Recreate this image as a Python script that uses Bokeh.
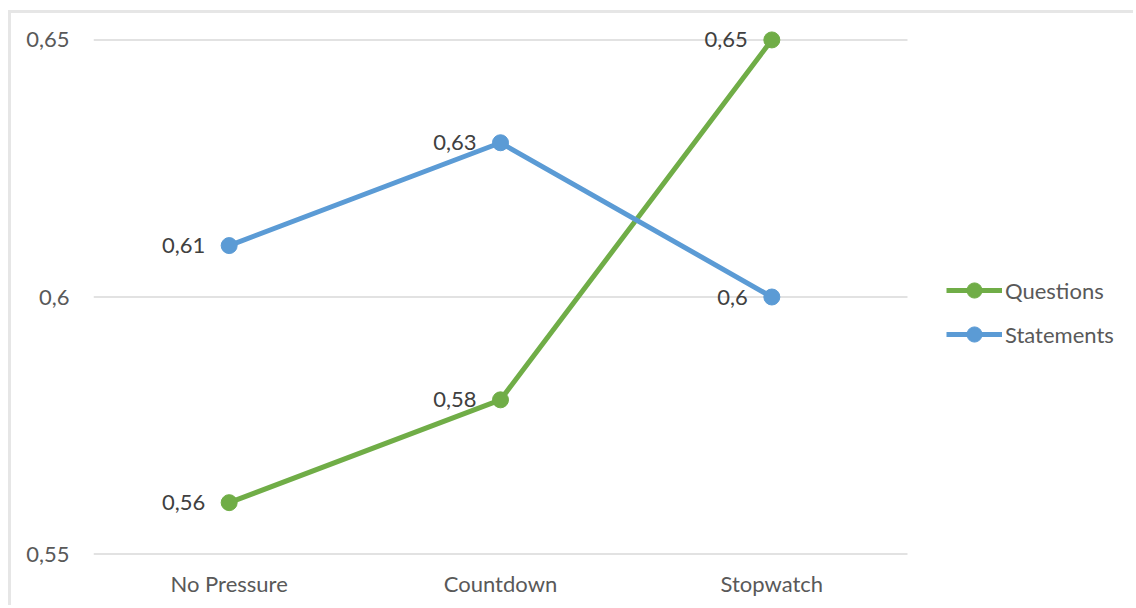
from bokeh.plotting import figure
from bokeh.models import FixedTicker, Legend, LegendItem, ColumnDataSource, Range1d
from bokeh.embed import file_html
from bokeh.resources import INLINE
from bokeh.core.properties import value

categories = ["No Pressure", "Countdown", "Stopwatch"]
questions = [0.56, 0.58, 0.65]
statements = [0.61, 0.63, 0.60]
y_ticks = [0.55, 0.6, 0.65]
y_tick_labels = ["0,55", "0,6", "0,65"]

def fmt(v):
    s = ("%.2f" % v).rstrip("0")
    return s.replace(".", ",")

GREEN = "#70AD47"
BLUE = "#5B9BD5"
FONT = "Lato"
FS = "22px"

# category positions on a numeric axis (centre of each category slot)
xpos = [i + 0.5 for i in range(len(categories))]
n = len(categories)
x_end = n * (1136 - 93) / 814.0  # extra room to the right holds the legend

p = figure(width=1125, height=595, x_range=Range1d(0, x_end), y_range=Range1d(0.547, 0.653),
           output_backend="svg", toolbar_location=None,
           min_border_left=82, min_border_right=0, min_border_top=11, min_border_bottom=39)
p.margin = (10, 0, 0, 8)
p.styles = {"border-left": "3px solid #E6E6E6", "border-top": "3px solid #E6E6E6"}
p.outline_line_color = None
p.background_fill_color = "white"
p.border_fill_color = "white"

p.xgrid.grid_line_color = None
p.ygrid.grid_line_color = None
p.segment(x0=[0] * len(y_ticks), x1=[n] * len(y_ticks), y0=y_ticks, y1=y_ticks,
          line_color="#D9D9D9", line_width=1.5)

p.yaxis.ticker = FixedTicker(ticks=y_ticks)
p.yaxis.major_label_overrides = dict(zip(y_ticks, y_tick_labels))
p.xaxis.ticker = FixedTicker(ticks=xpos)
p.xaxis.major_label_overrides = dict(zip(xpos, categories))
for ax in (p.xaxis, p.yaxis):
    ax.axis_line_color = None
    ax.major_tick_line_color = None
    ax.minor_tick_line_color = None
    ax.major_tick_out = 0
    ax.major_tick_in = 0
    ax.major_label_text_font = FONT
    ax.major_label_text_font_size = FS
    ax.major_label_text_color = "#595959"
p.yaxis.major_label_standoff = 24
p.xaxis.major_label_standoff = 0

src_q = ColumnDataSource(dict(x=xpos, y=questions, t=[fmt(v) for v in questions]))
src_s = ColumnDataSource(dict(x=xpos, y=statements, t=[fmt(v) for v in statements]))

lq = p.line("x", "y", source=src_q, line_color=GREEN, line_width=5)
cq = p.scatter("x", "y", source=src_q, size=16, fill_color=GREEN, line_color=GREEN)
ls = p.line("x", "y", source=src_s, line_color=BLUE, line_width=5)
cs = p.scatter("x", "y", source=src_s, size=16, fill_color=BLUE, line_color=BLUE)

for src in (src_q, src_s):
    p.text("x", "y", text="t", source=src, text_align="right", text_baseline="middle",
           x_offset=-24, text_font=value(FONT), text_font_size=FS, text_color="#404040")

legend = Legend(items=[LegendItem(label="Questions", renderers=[lq, cq]),
                       LegendItem(label="Statements", renderers=[ls, cs])],
                location=(853, 216), orientation="vertical",
                glyph_width=56, glyph_height=38, label_height=38, label_standoff=3,
                spacing=6, padding=0, margin=0, border_line_color=None,
                background_fill_alpha=0,
                label_text_font=FONT, label_text_font_size=FS, label_text_color="#595959")
p.add_layout(legend, "center")

open("out.html", "w").write(file_html(p, INLINE))
